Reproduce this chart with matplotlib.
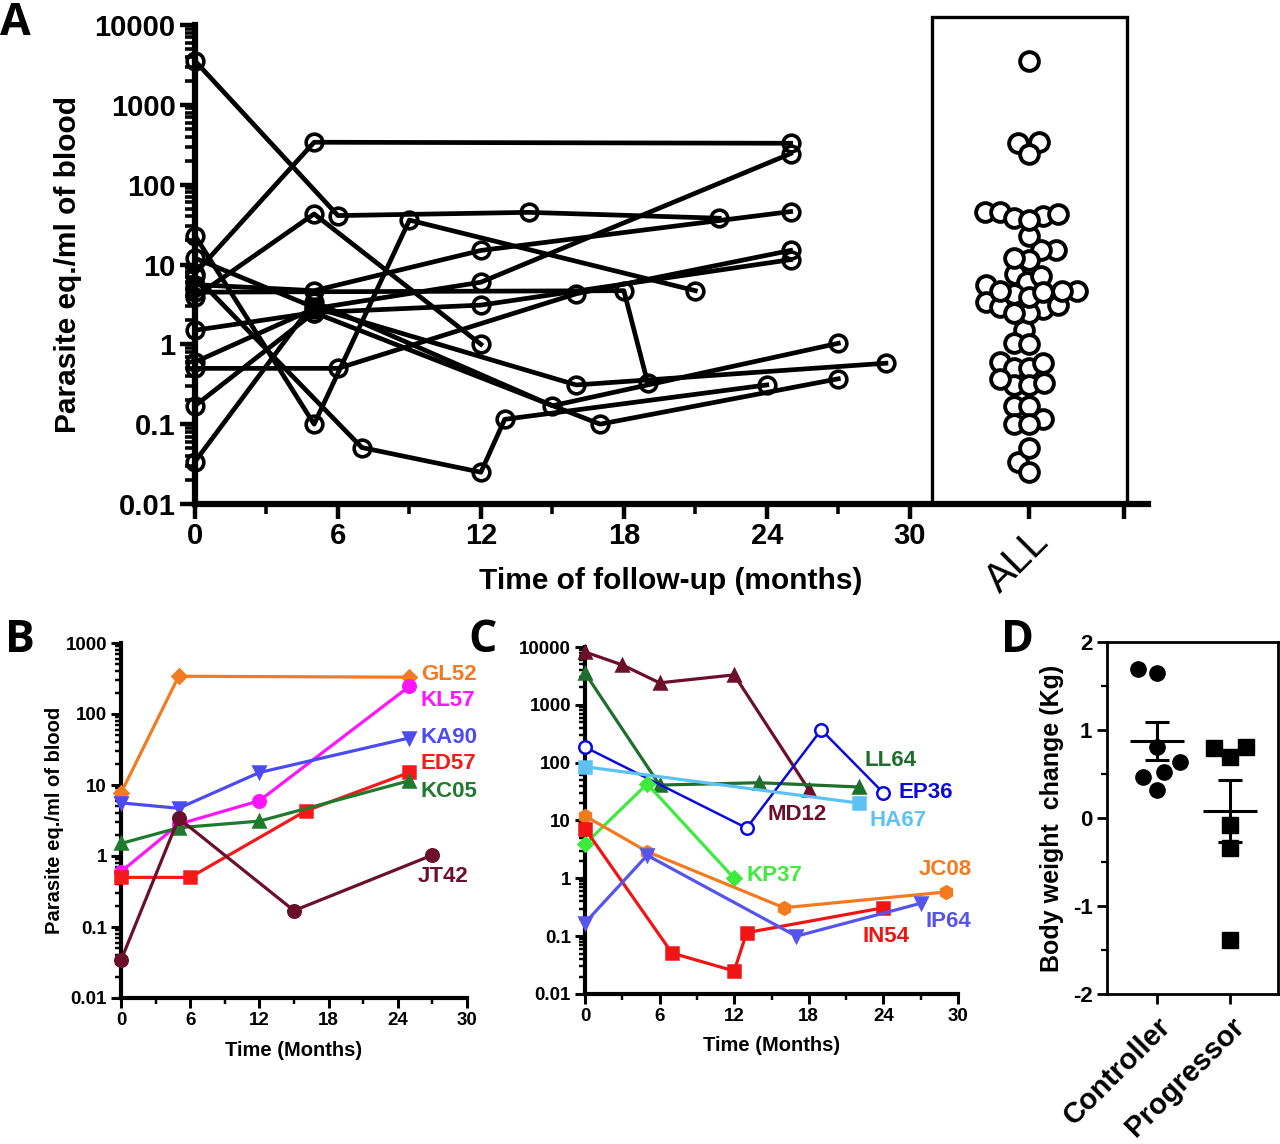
import numpy as np
import matplotlib
matplotlib.use("Agg")
import matplotlib.pyplot as plt
from matplotlib.patches import Rectangle
from matplotlib.ticker import FixedLocator, LogLocator, NullFormatter
from matplotlib.transforms import blended_transform_factory

plt.rcParams['font.family'] = ['Liberation Sans', 'DejaVu Sans']
plt.rcParams['font.weight'] = 'bold'
plt.rcParams['axes.labelweight'] = 'bold'
plt.rcParams['axes.unicode_minus'] = False

# ---------------- data ----------------
# Panel B patients (months, parasite eq./ml)
gl52_t = [0, 5, 25];         gl52_v = [7.7, 340, 330]
kl57_t = [0, 5, 12, 25];     kl57_v = [0.6, 2.8, 6, 245]
ka90_t = [0, 5, 12, 25];     ka90_v = [5.6, 4.7, 15, 46]
ed57_t = [0, 6, 16, 25];     ed57_v = [0.5, 0.5, 4.3, 15]
kc05_t = [0, 5, 12, 25];     kc05_v = [1.5, 2.5, 3.1, 11.5]
jt42_t = [0, 5, 15, 27];     jt42_v = [0.034, 3.4, 0.17, 1.03]

# Panel C patients
md12_t = [0, 3, 6, 12, 18];  md12_v = [8200, 4900, 2400, 3300, 34]
ll64_t = [0, 6, 14, 22];     ll64_v = [3550, 41, 45, 38]
ep36_t = [0, 13, 19, 24];    ep36_v = [186, 7.4, 370, 30]
ha67_t = [0, 22];            ha67_v = [85, 20]
kp37_t = [0, 5, 12];         kp37_v = [3.9, 43, 1.0]
jc08_t = [0, 5, 16, 29];     jc08_v = [12, 2.9, 0.31, 0.58]
in54_t = [0, 7, 12, 13, 24]; in54_v = [7.2, 0.051, 0.025, 0.115, 0.31]
ip64_t = [0, 5, 17, 27];     ip64_v = [0.17, 2.5, 0.1, 0.37]

# Panel A: additional unlabeled follow-ups
extra1_t = [0, 5, 9, 21];    extra1_v = [23, 0.1, 36, 4.7]
extra2_t = [0, 18, 19];      extra2_v = [4.5, 4.7, 0.33]

# Panel D: body weight change (kg)
controller_kg = [1.65, 1.69, 0.81, 0.64, 0.52, 0.47, 0.32]
progressor_kg = [0.80, 0.81, 0.69, -0.08, -0.34, -1.39]
groups = ['Controller', 'Progressor']

decade_ticks = [0.01, 0.1, 1, 10, 100, 1000, 10000]
decade_labels = ['0.01', '0.1', '1', '10', '100', '1000', '10000']
month_ticks = [0, 6, 12, 18, 24, 30]

# ---------------- series tables ----------------
seriesA = [(gl52_t, gl52_v), (kl57_t, kl57_v), (ka90_t, ka90_v), (ed57_t, ed57_v),
           (kc05_t, kc05_v), (jt42_t, jt42_v), (ll64_t, ll64_v), (kp37_t, kp37_v),
           (jc08_t, jc08_v), (in54_t, in54_v), (ip64_t, ip64_v),
           (extra1_t, extra1_v), (extra2_t, extra2_v)]

seriesB = [
    ('GL52', gl52_t, gl52_v, '#F47A20', 'D', True, (26.0, 360)),
    ('KL57', kl57_t, kl57_v, '#FF14FF', 'o', True, (26.0, 157)),
    ('KA90', ka90_t, ka90_v, '#4B4BF0', 'v', True, (26.0, 47)),
    ('ED57', ed57_t, ed57_v, '#F41A1A', 's', True, (26.0, 20)),
    ('KC05', kc05_t, kc05_v, '#1E7A2C', '^', True, (26.0, 8)),
    ('JT42', jt42_t, jt42_v, '#6B0F2B', 'o', True, (25.7, 0.52)),
]
seriesC = [
    ('MD12', md12_t, md12_v, '#6B0F2B', '^', True, (14.7, 12.5)),
    ('LL64', ll64_t, ll64_v, '#1E6E2C', '^', True, (22.5, 107)),
    ('EP36', ep36_t, ep36_v, '#0A0ADC', 'o', False, (25.2, 31)),
    ('HA67', ha67_t, ha67_v, '#5BC2F2', 's', True, (22.9, 10.2)),
    ('KP37', kp37_t, kp37_v, '#3DEB3D', 'D', True, (12.95, 1.1)),
    ('JC08', jc08_t, jc08_v, '#F47A20', 'h', True, (26.8, 1.45)),
    ('IN54', in54_t, in54_v, '#F01414', 's', True, (22.3, 0.1)),
    ('IP64', ip64_t, ip64_v, '#5555EE', 'v', True, (27.4, 0.176)),
]

W, H = 1280, 1144
fig = plt.figure(figsize=(W / 100, H / 100), dpi=100)


def ax_rect(left, right, top, bottom):
    return [left / W, 1 - bottom / H, (right - left) / W, (bottom - top) / H]


def swarm(ys_px, diam):
    order = np.argsort(ys_px)
    placed = []
    xs = np.zeros(len(ys_px))
    for i in order:
        y = ys_px[i]
        cands = [0.0]
        for px, py in placed:
            dy = abs(py - y)
            if dy < diam:
                dx = np.sqrt(diam ** 2 - dy ** 2)
                cands += [px + dx, px - dx]
        cands = sorted(cands, key=lambda c: (abs(c), c))
        for c in cands:
            if all((c - px) ** 2 + (y - py) ** 2 >= diam ** 2 - 1e-6 for px, py in placed):
                xs[i] = c
                break
        placed.append((xs[i], y))
    return xs


def style_log_axis(ax, fs, spine_w, maj_len, min_len, tick_w, pad=3):
    ax.set_yscale('log')
    for s in ['top', 'right']:
        ax.spines[s].set_visible(False)
    for s in ['left', 'bottom']:
        ax.spines[s].set_linewidth(spine_w)
    ax.tick_params(axis='both', which='major', direction='out', length=maj_len,
                   width=tick_w, labelsize=fs, pad=pad)
    ax.tick_params(axis='both', which='minor', direction='out', length=min_len,
                   width=tick_w * 0.8)
    ax.yaxis.set_minor_locator(LogLocator(base=10, subs=np.arange(2, 10)))
    ax.yaxis.set_minor_formatter(NullFormatter())


# ---------------- Panel A ----------------
axA = fig.add_axes(ax_rect(195, 1148, 25, 504))
style_log_axis(axA, 21, 4.5, 11, 7, 3.2)
axA.set_xlim(0, 40)
axA.set_ylim(0.01, 10000)
axA.set_yticks(decade_ticks)
axA.set_yticklabels(decade_labels)
axA.set_xticks(month_ticks + [35, 39])
axA.set_xticklabels([str(m) for m in month_ticks] + ['ALL', ''])
axA.xaxis.set_minor_locator(FixedLocator([3, 9, 15, 21, 27]))
axA.tick_params(axis='x', which='major', pad=2)
for lab in axA.get_xticklabels():
    if lab.get_text() == 'ALL':
        lab.set_rotation(45)
        lab.set_ha('right')
        lab.set_va('top')
        lab.set_rotation_mode('anchor')
        lab.set_fontsize(29)
        lab.set_fontweight('normal')

for t, v in seriesA:
    axA.plot(t, v, color='black', lw=3.4, marker='o', ms=12, mfc='none',
             mec='black', mew=2.6, zorder=3, clip_on=False)

# ALL column as a beeswarm
all_vals = np.concatenate([np.asarray(v, float) for _, v in seriesA])
ypx = axA.transData.transform(np.column_stack([np.full(len(all_vals), 35.0), all_vals]))[:, 1]
px_per_month = axA.transData.transform((1, 1))[0] - axA.transData.transform((0, 1))[0]
offs = swarm(ypx, 15.0) / px_per_month
axA.plot(35 + offs, all_vals, ls='none', marker='o', ms=13.5, mfc='white', mec='black',
         mew=2.8, zorder=4, clip_on=False)
trA = blended_transform_factory(axA.transData, axA.transAxes)
axA.add_patch(Rectangle((30.93, 0), 39.1 - 30.93, 1.017, transform=trA, fill=False,
                        lw=2.4, ec='black', clip_on=False, zorder=2))

axA.set_ylabel('Parasite eq./ml of blood', fontsize=21.5, va='center')
axA.yaxis.set_label_coords(-0.133, 0.5)
axA.set_xlabel('Time of follow-up (months)', fontsize=21.5, va='center')
axA.xaxis.set_label_coords(0.4995, -0.161)


# ---------------- Panels B and C ----------------
def draw_series_panel(ax, series, ymax):
    style_log_axis(ax, 13.5, 3.0, 7, 4, 2.2)
    ax.set_xlim(0, 30)
    ax.set_ylim(0.01, ymax)
    ticks = [t for t in decade_ticks if t <= ymax]
    ax.set_yticks(ticks)
    ax.set_yticklabels(decade_labels[:len(ticks)])
    ax.set_xticks(month_ticks)
    ax.xaxis.set_minor_locator(FixedLocator([3, 9, 15, 21, 27]))
    for name, t, v, col, mk, filled, lab in series:
        lw = 2.3 if filled else 1.8
        ax.plot(t, v, color=col, lw=lw, marker=mk, ms=9 if mk != 'D' else 7.5,
                mfc=col if filled else 'white', mec=col, mew=1.8,
                zorder=3, clip_on=False)
        ax.text(lab[0], lab[1], name, color=col, fontsize=16, fontweight='bold',
                ha='left', va='center', zorder=5)
    ax.set_xlabel('Time (Months)', fontsize=14.5, va='center')
    ax.xaxis.set_label_coords(0.5, -0.148)


axB = fig.add_axes(ax_rect(121, 467, 643, 998))
draw_series_panel(axB, seriesB, 1000)
axB.set_ylabel('Parasite eq./ml of blood', fontsize=14.5, va='center')
axB.yaxis.set_label_coords(-0.191, 0.5)

axC = fig.add_axes(ax_rect(585, 958, 647, 994))
draw_series_panel(axC, seriesC, 10000)

# ---------------- Panel D ----------------
axD = fig.add_axes(ax_rect(1107, 1278, 642, 994))
axD.set_xlim(-0.685, 1.658)
axD.set_ylim(-2, 2)
for s in axD.spines.values():
    s.set_linewidth(2.0)
axD.set_yticks([-2, -1, 0, 1, 2])
axD.set_yticks([-1.5, -0.5, 0.5, 1.5], minor=True)
axD.tick_params(axis='y', which='major', direction='out', length=7, width=2, labelsize=16)
axD.tick_params(axis='y', which='minor', direction='out', length=4, width=1.6)
axD.set_xticks([0, 1])
axD.set_xticklabels(groups, rotation=45, ha='right', rotation_mode='anchor', fontsize=21)
axD.tick_params(axis='x', direction='out', length=7, width=2, pad=6)

px_per_unit = axD.transData.transform((1, 0))[0] - axD.transData.transform((0, 0))[0]
for gi, (vals, mk) in enumerate([(controller_kg, 'o'), (progressor_kg, 's')]):
    vals = np.asarray(vals, float)
    ypxD = axD.transData.transform(np.column_stack([np.full(len(vals), gi), vals]))[:, 1]
    xo = swarm(ypxD, 19.0) / px_per_unit
    axD.plot(gi + xo, vals, ls='none', marker=mk, ms=11 if mk == 'o' else 11.5,
             color='black', zorder=3)
    mean = vals.mean()
    sem = vals.std(ddof=1) / np.sqrt(len(vals))
    axD.hlines(mean, gi - 0.37, gi + 0.37, color='black', lw=2.2, zorder=4)
    axD.vlines(gi, mean - sem, mean + sem, color='black', lw=2.2, zorder=4)
    axD.hlines([mean - sem, mean + sem], gi - 0.16, gi + 0.16, color='black', lw=2.2, zorder=4)
axD.set_ylabel('Body weight  change (Kg)', fontsize=18, va='center')
axD.yaxis.set_label_coords(-0.322, 0.5)

# ---------------- panel letters ----------------
for letter, x, y in [('A', 0, 35), ('B', 5, 652), ('C', 468, 652), ('D', 1001, 652)]:
    fig.text(x / W, 1 - y / H, letter, fontsize=32, fontweight='bold',
             family=['Open Sans', 'DejaVu Sans'], ha='left', va='baseline')

fig.savefig('out.png', dpi=100, facecolor='white')
